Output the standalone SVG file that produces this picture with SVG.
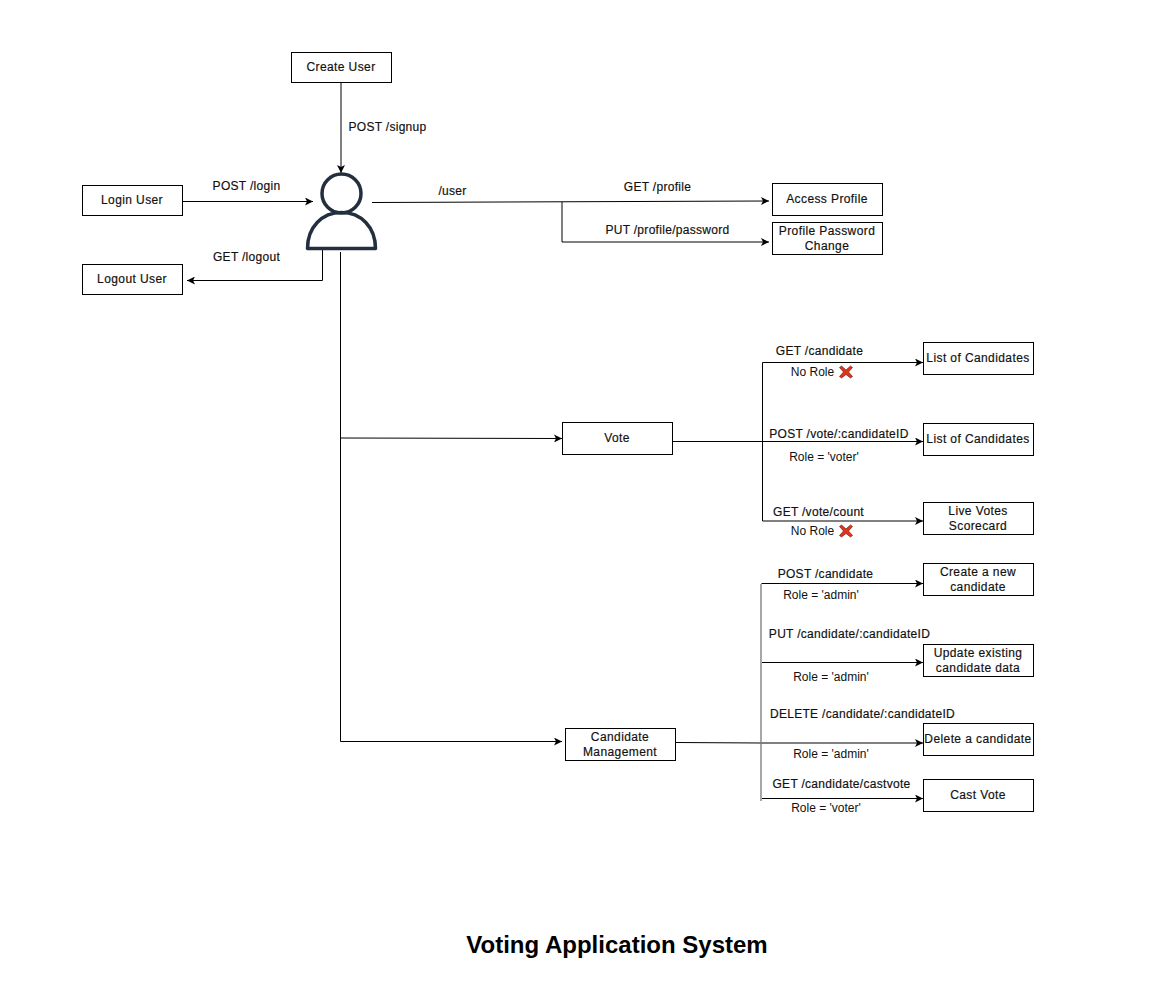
<svg xmlns="http://www.w3.org/2000/svg" width="1176" height="989" viewBox="0 0 1176 989">
<style>
text{font-family:"Liberation Sans",Arial,sans-serif;font-size:12px;fill:#111;text-anchor:middle}
.n text{letter-spacing:.4px;stroke:#111;stroke-width:.18px}
.w{letter-spacing:.3px;stroke:#111;stroke-width:.18px}
.b{fill:#fff;stroke:#000;stroke-width:1}
.c{fill:none;stroke:#000;stroke-width:1}
.a{marker-end:url(#ah)}
.x{fill:#e0341c;stroke:#5a1408;stroke-width:.6}
</style>
<defs>
<marker id="ah" markerUnits="userSpaceOnUse" markerWidth="10" markerHeight="8" refX="8" refY="4" orient="auto"><path d="M0 0L8 4L0 8L2 4Z" fill="#000"/></marker>
<path id="cross" d="M-6.500 -4.500L-4.500 -6L0 -2L4.500 -6L6.500 -4.500L2.500 0L6.500 4.500L4.500 6L0 2.500L-4.500 6L-6.500 4.500L-2.500 0Z"/>
</defs>
<rect width="1176" height="989" fill="#fff"/>
<g id="connectors">
<path class="c a" d="M341 82V173"/>
<path class="c a" d="M183 201.500H313"/>
<path class="c a" d="M322.500 250V280.500H187"/>
<path class="c a" d="M372 202.500L769 201"/>
<path class="c a" d="M562 202V242H769"/>
<path class="c" d="M340.500 252V741.500"/>
<path class="c a" d="M341 438L562 438.500"/>
<path class="c a" d="M340.500 741.500H562"/>
<path class="c a" d="M673 441.500H923"/>
<path class="c a" d="M762.500 441V362.500H923"/>
<path class="c a" d="M762.500 441V521H923"/>
<path class="c a" d="M676 742.500L761 743H923"/>
<path class="c" stroke="#777" style="stroke:#777;stroke-width:1.300" d="M761 584V801"/>
<path class="c a" d="M761.500 583.500H923"/>
<path class="c a" d="M762 662.500H923"/>
<path class="c a" d="M762 798.500H923"/>
</g>
<g id="user" fill="none" stroke="#232f3e" stroke-width="3.500">
<circle cx="341.500" cy="193.500" r="19.500"/>
<path d="M307.500 248.500C307.500 227 322 212.500 341.500 212.500C361 212.500 375.500 227 375.500 248.500Z" stroke-linejoin="round"/>
</g>
<g class="n">
<g id="create-user"><rect class="b" x="291.500" y="52.500" width="100" height="30"/><text x="341" y="71">Create User</text></g>
<g id="login-user"><rect class="b" x="82.500" y="185.500" width="100" height="30"/><text x="132" y="204">Login User</text></g>
<g id="logout-user"><rect class="b" x="82.500" y="264.500" width="100" height="30"/><text x="132" y="283">Logout User</text></g>
<g id="access-profile"><rect class="b" x="772.500" y="183.500" width="110" height="32"/><text x="827" y="203">Access Profile</text></g>
<g id="password-change"><rect class="b" x="772.500" y="222.500" width="110" height="32"/><text x="827" y="235">Profile Password</text><text x="827" y="250">Change</text></g>
<g id="vote"><rect class="b" x="562.500" y="422.500" width="110" height="32"/><text x="617" y="442">Vote</text></g>
<g id="candidate-management"><rect class="b" x="565.500" y="728.500" width="110" height="32"/><text x="620" y="741">Candidate</text><text x="620" y="756">Management</text></g>
<g id="list-1"><rect class="b" x="923.500" y="342.500" width="110" height="32"/><text x="978" y="362">List of Candidates</text></g>
<g id="list-2"><rect class="b" x="923.500" y="423.500" width="110" height="32"/><text x="978" y="443">List of Candidates</text></g>
<g id="scorecard"><rect class="b" x="923.500" y="502.500" width="110" height="32"/><text x="978" y="515">Live Votes</text><text x="978" y="530">Scorecard</text></g>
<g id="create-candidate"><rect class="b" x="923.500" y="563.500" width="110" height="32"/><text x="978" y="576">Create a new</text><text x="978" y="591">candidate</text></g>
<g id="update-candidate"><rect class="b" x="923.500" y="644.500" width="110" height="32"/><text x="978" y="657">Update existing</text><text x="978" y="672">candidate data</text></g>
<g id="delete-candidate"><rect class="b" x="923.500" y="723.500" width="110" height="32"/><text x="978" y="743">Delete a candidate</text></g>
<g id="cast-vote"><rect class="b" x="923.500" y="779.500" width="110" height="32"/><text x="978" y="799">Cast Vote</text></g>
</g>
<g id="labels">
<text class="w" x="387.500" y="131">POST /signup</text>
<text class="w" x="246.500" y="190">POST /login</text>
<text class="w" x="246.500" y="261">GET /logout</text>
<text class="w" x="452.500" y="195">/user</text>
<text class="w" x="657.500" y="191">GET /profile</text>
<text class="w" x="667.500" y="234">PUT /profile/password</text>
<text class="w" x="819.500" y="355">GET /candidate</text>
<text x="812.500" y="376">No Role</text>
<use href="#cross" class="x" x="846" y="372"/>
<text class="w" x="839" y="438">POST /vote/:candidateID</text>
<text x="824" y="461">Role = 'voter'</text>
<text class="w" x="818.500" y="516">GET /vote/count</text>
<text x="812.500" y="535">No Role</text>
<use href="#cross" class="x" x="846" y="531"/>
<text class="w" x="825.500" y="578">POST /candidate</text>
<text x="821" y="599">Role = 'admin'</text>
<text class="w" x="849.500" y="638">PUT /candidate/:candidateID</text>
<text x="831" y="681">Role = 'admin'</text>
<text class="w" x="862.500" y="718">DELETE /candidate/:candidateID</text>
<text x="831" y="758">Role = 'admin'</text>
<text class="w" x="841.500" y="788">GET /candidate/castvote</text>
<text x="826" y="812">Role = 'voter'</text>
<text x="617" y="953" style="font-size:24px;font-weight:bold;fill:#000">Voting Application System</text>
</g>
</svg>
